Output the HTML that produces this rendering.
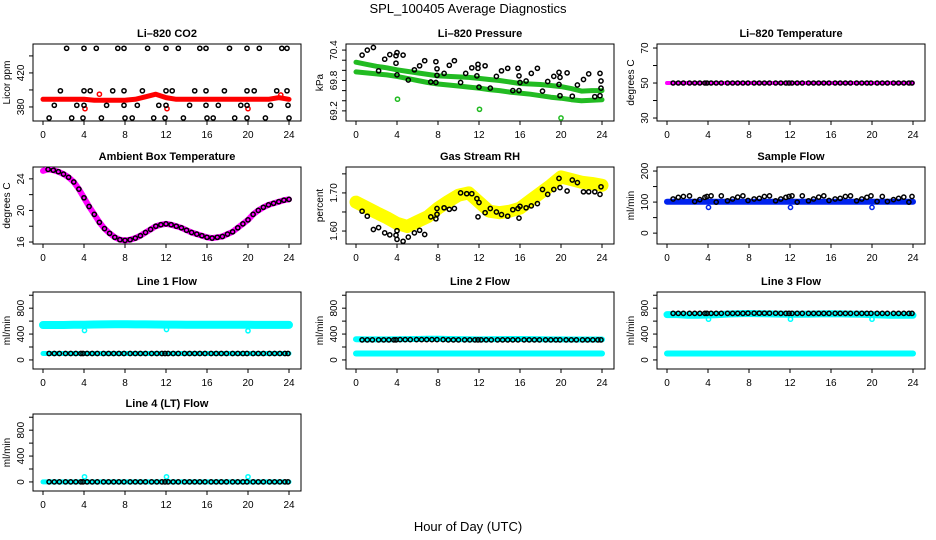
<!DOCTYPE html>
<html><head><meta charset="utf-8">
<style>
html,body{margin:0;padding:0;background:#fff;}
svg{display:block;font-family:"Liberation Sans",Arial,sans-serif;}
</style></head>
<body>
<svg id="chart" width="936" height="540" viewBox="0 0 936 540" xmlns="http://www.w3.org/2000/svg">
<text x="468" y="13" text-anchor="middle" font-size="13">SPL_100405  Average Diagnostics</text>
<text x="468" y="531" text-anchor="middle" font-size="13">Hour of Day (UTC)</text>
</svg>
<script>
// ---------- data ----------
const xTicks = [0,4,8,12,16,20,24];
const blackHours = [0.6,1.1,1.6,2.2,2.7,3.2,3.7,3.9,4.3,4.8,5.3,5.9,6.4,6.9,7.4,7.9,8.5,9.0,9.5,10.0,10.6,11.1,11.6,11.9,12.2,12.7,13.2,13.8,14.3,14.8,15.3,15.8,16.4,16.9,17.4,17.9,18.5,19.0,19.5,19.9,20.5,21.0,21.5,22.1,22.6,23.1,23.6,23.9];
const hourly = [0,1,2,3,4,5,6,7,8,9,10,11,12,13,14,15,16,17,18,19,20,21,22,23,24];
const halfHours = [0,0.5,1,1.5,2,2.5,3,3.5,4,4.5,5,5.5,6,6.5,7,7.5,8,8.5,9,9.5,10,10.5,11,11.5,12,12.5,13,13.5,14,14.5,15,15.5,16,16.5,17,17.5,18,18.5,19,19.5,20,20.5,21,21.5,22,22.5,23,23.5,24];
const outlierHours = [4.05,12.05,20.0];

// CO2
const co2Band = [389,389,389,389,389,388,388,388,388,389,392,395,391,389,389,389,389,389,389,389,389,389,389,391,389];
const co2Hours = [2.3,4.0,5.2,7.3,7.9,10.2,12.0,13.2,15.3,15.9,18.2,19.9,21.1,23.3,23.8, 1.7,4.0,4.6,6.8,7.9,9.7,12.0,12.6,14.8,15.9,17.7,19.9,20.6,22.8,23.8, 1.1,3.3,4.0,6.2,7.9,9.2,11.3,12.0,14.3,15.9,17.1,19.3,19.9,22.2,23.9, 0.6,2.8,3.9,5.7,8.0,8.7,10.8,11.9,13.7,16.0,16.6,18.7,19.9,21.7,24.0];
const co2Values = [449,449,449,449,449,449,449,449,449,449,449,449,449,449,449, 399,399,399,399,399,399,399,399,399,399,399,399,399,399,399, 382,382,382,382,382,382,382,382,382,382,382,382,382,382,382, 367,367,367,367,367,367,367,367,367,367,367,367,367,367,367];
const co2OutHours = [4.1,5.5,12.1,20.0,23.2];
const co2OutValues = [378,395,378,378,394];

// Pressure
const presUpper = [70.16,70.12,70.08,70.05,70.01,69.98,69.95,69.92,69.89,69.88,69.87,69.86,69.84,69.82,69.80,69.77,69.74,69.73,69.72,69.70,69.68,69.64,69.59,69.60,69.60];
const presLower = [69.97,69.95,69.93,69.91,69.88,69.84,69.80,69.76,69.73,69.71,69.69,69.67,69.65,69.62,69.60,69.57,69.55,69.53,69.50,69.47,69.45,69.42,69.40,69.41,69.42];
const presHours = [0.6,1.1,1.7,2.2,2.8,3.3,3.9,4.0,3.9,4.0,4.6,5.1,5.7,6.2,6.7,7.3,7.8,7.8,7.9,7.9,8.6,9.1,9.6,10.2,10.7,11.3,11.8,11.9,11.9,12.0,12.6,13.1,13.7,14.2,14.8,15.3,15.8,15.9,16.0,15.9,16.6,17.1,17.7,18.2,18.7,19.3,19.8,19.9,19.8,19.9,20.6,21.1,21.6,22.2,22.7,23.3,23.8,23.9,23.9,23.8];
const presValues = [70.30,70.40,70.45,69.99,70.22,70.31,70.29,70.35,70.14,69.91,70.30,69.81,70.01,70.09,70.19,69.77,69.76,70.17,70.03,69.90,69.94,70.10,70.19,69.76,69.94,70.05,69.89,70.12,70.04,69.67,70.09,69.65,69.88,69.99,70.04,69.60,70.04,69.89,69.76,69.60,69.79,69.94,70.04,69.59,69.78,69.88,69.96,69.86,69.72,69.50,69.95,69.49,69.71,69.82,69.93,69.48,69.94,69.79,69.65,69.50];
const presOutValues = [69.43,69.23,69.06];

// Li-820 temperature
const tempBand = [50,50,50,50,50,50,50,50,50,50,50,50,50,50,50,50,50,50,50,50,50,50,50,50,50];
const tempBlack = [50,50,50,50,50,50,50,50,50,50,50,50,50,50,50,50,50,50,50,50,50,50,50,50,50,50,50,50,50,50,50,50,50,50,50,50,50,50,50,50,50,50,50,50,50,50,50,50];

// Ambient box temperature (half-hourly)
const ambientValues = [25.0,25.2,25.1,24.9,24.6,24.2,23.6,22.7,21.6,20.5,19.5,18.5,17.7,17.1,16.6,16.3,16.2,16.3,16.5,16.8,17.2,17.6,18.0,18.2,18.3,18.2,18.0,17.8,17.5,17.2,17.0,16.8,16.6,16.5,16.6,16.7,17.0,17.3,17.8,18.3,18.8,19.5,20.0,20.4,20.7,20.9,21.1,21.3,21.4];

// Gas stream RH
const rhBand = [1.676,1.662,1.648,1.635,1.620,1.612,1.625,1.638,1.660,1.678,1.694,1.700,1.676,1.652,1.648,1.652,1.660,1.680,1.700,1.720,1.742,1.735,1.728,1.725,1.720];
const rhHours = [0.6,1.1,1.7,2.2,2.8,3.3,3.9,4.0,4.0,4.6,5.1,5.7,6.2,6.7,7.3,7.8,7.9,7.9,8.6,9.1,9.6,10.2,10.8,11.3,11.8,11.9,12.0,12.6,13.1,13.7,14.2,14.8,15.3,15.8,15.9,16.0,16.6,17.1,17.7,18.2,18.7,19.3,19.8,19.9,20.6,21.1,21.6,22.2,22.7,23.3,23.8,23.9];
const rhValues = [1.652,1.639,1.604,1.609,1.595,1.590,1.589,1.578,1.601,1.573,1.584,1.595,1.602,1.591,1.637,1.632,1.644,1.659,1.661,1.657,1.659,1.700,1.698,1.698,1.685,1.637,1.675,1.648,1.659,1.650,1.643,1.639,1.656,1.659,1.634,1.665,1.661,1.666,1.672,1.709,1.696,1.709,1.738,1.714,1.705,1.734,1.727,1.703,1.703,1.703,1.696,1.716];

// Sample flow
const sampleBand = [101,101,101,101,101,101,101,101,101,101,101,101,101,101,101,101,101,101,101,101,101,101,101,101,101];
const sampleBlack = [110,115,118,120,102,108,115,118,120,100,120,104,110,116,120,105,110,112,118,120,104,110,115,118,120,100,120,104,110,116,120,105,110,112,118,120,104,110,115,120,102,118,102,108,112,116,100,118];
const sampleOut = [83,83,83];

// Line flows
const line1Band = [540,540,540,545,545,548,550,552,552,550,550,548,546,546,545,545,545,544,544,543,543,542,542,542,542];
const line1Low = [100,100,100,100,100,100,100,100,100,100,100,100,100,100,100,100,100,100,100,100,100,100,100,100,100];
const line1Black = [100,100,100,100,100,100,100,100,100,100,100,100,100,100,100,100,100,100,100,100,100,100,100,100,100,100,100,100,100,100,100,100,100,100,100,100,100,100,100,100,100,100,100,100,100,100,100,100];
const line1Out = [455,470,450];
const line2Band = [320,318,318,318,320,322,324,326,326,324,322,320,318,320,322,324,324,322,320,318,318,316,316,316,316];
const line2Low = [100,100,100,100,100,100,100,100,100,100,100,100,100,100,100,100,100,100,100,100,100,100,100,100,100];
const line2Black = [310,310,310,310,310,310,310,310,315,315,315,315,315,315,315,315,315,310,310,310,310,310,310,310,310,310,310,310,310,310,310,310,310,310,310,310,310,310,310,310,310,310,310,310,310,310,310,310];
const line3Band = [700,700,690,690,695,700,710,715,718,715,712,708,705,705,708,712,715,712,708,705,700,695,690,690,690];
const line3Low = [100,100,100,100,100,100,100,100,100,100,100,100,100,100,100,100,100,100,100,100,100,100,100,100,100];
const line3Black = [720,720,720,720,720,720,720,720,720,720,720,720,720,720,720,722,722,722,722,722,722,720,720,720,720,720,720,720,720,720,720,720,720,720,720,720,720,720,720,720,720,720,720,720,720,720,720,720];
const line3Out = [630,630,630];
const line4Band = [0,0,0,0,0,0,0,0,0,0,0,0,0,0,0,0,0,0,0,0,0,0,0,0,0];
const line4Black = [0,0,0,0,0,0,0,0,0,0,0,0,0,0,0,0,0,0,0,0,0,0,0,0,0,0,0,0,0,0,0,0,0,0,0,0,0,0,0,0,0,0,0,0,0,0,0,0];
const line4Out = [80,80,80];

// ---------- drawing ----------
const svg = document.getElementById('chart');
const NS = 'http://www.w3.org/2000/svg';
function mk(tag, attrs, parent){
  const e = document.createElementNS(NS, tag);
  for (const k in attrs) e.setAttribute(k, attrs[k]);
  (parent||svg).appendChild(e);
  return e;
}
const colLeft = [33,346,657];
const rowTop = [44,167,292,414];
const BW = 268, BH = 77;

function makePanel(slug, col, row, title, ytitle, ymin, ymax, yticks, ylabels){
  const L = colLeft[col], T = rowTop[row];
  const g = mk('g', {});
  
  
  const x = h => L + 10 + h * 10.25;
  const y = v => T + BH - (v - ymin) / (ymax - ymin) * BH;
  const box = mk('rect', {x:L, y:T, width:BW, height:BH, fill:'none', stroke:'#000', 'stroke-width':1}, g);
  
  
  const t = mk('text', {x:L+BW/2, y:T-7, 'text-anchor':'middle', 'font-size':11, 'font-weight':'bold'}, g);
  t.textContent = title;
  
  
  const xa = mk('g', {}, g);
  
  
  mk('line', {x1:x(0), x2:x(24), y1:T+BH, y2:T+BH, stroke:'#000'}, xa);
  xTicks.forEach(v => {
    mk('line', {x1:x(v), x2:x(v), y1:T+BH, y2:T+BH+4, stroke:'#000'}, xa);
    const tl = mk('text', {x:x(v), y:T+BH+17, 'text-anchor':'middle', 'font-size':10}, xa);
    tl.textContent = v;
    
    
  });
  const ya = mk('g', {}, g);
  
  
  yticks.forEach(v => {
    mk('line', {x1:L-4, x2:L, y1:y(v), y2:y(v), stroke:'#000'}, ya);
  });
  yticks.forEach((v,i) => {
    if (ylabels[i] === '') return;
    const tl = mk('text', {x:0, y:0, 'text-anchor':'middle', 'font-size':10,
      transform:'translate(' + (L-9) + ',' + y(v) + ') rotate(-90)'}, ya);
    tl.textContent = ylabels[i];
    
    
  });
  const yt = mk('text', {x:0, y:0, 'text-anchor':'middle', 'font-size':10,
    transform:'translate(' + (L-23) + ',' + (T+BH/2) + ') rotate(-90)'}, g);
  yt.textContent = ytitle;
  
  
  const clip = 'clip-' + slug;
  const cp = mk('clipPath', {id:clip}, g);
  mk('rect', {x:L, y:T, width:BW, height:BH}, cp);
  const plot = mk('g', {'clip-path':'url(#' + clip + ')'}, g);
  return {x, y, plot};
}

function band(P, name, hours, vals, color, width){
  const pts = hours.map((h,i) => P.x(h).toFixed(1) + ',' + P.y(vals[i]).toFixed(1)).join(' ');
  const pl = mk('polyline', {points:pts, fill:'none', stroke:color, 'stroke-width':width,
    'stroke-linejoin':'round', 'stroke-linecap':'round'}, P.plot);
  
  
}
function points(P, name, hours, vals, color, r){
  const g = mk('g', {}, P.plot);
  
  
  hours.forEach((h,i) => {
    const c = mk('circle', {cx:P.x(h).toFixed(1), cy:P.y(vals[i]).toFixed(1), r:r||2.1,
      fill:'none', stroke:color, 'stroke-width':1.5}, g);
    
    
  });
}

// CO2
let P = makePanel('co2', 0, 0, 'Li\u2013820 CO2', 'Licor ppm', 363.5, 454, [380,400,420,440], ['380','','420','']);
band(P, 'co2-band', hourly, co2Band, '#ff0000', 5);
points(P, 'co2-outliers', co2OutHours, co2OutValues, '#ff0000');
points(P, 'co2-hourly-points', co2Hours, co2Values, '#000');

// Pressure
P = makePanel('pressure', 1, 0, 'Li\u2013820 Pressure', 'kPa', 69.0, 70.52, [69.2,69.4,69.6,69.8,70.0,70.2,70.4], ['69.2','','','69.8','','','70.4']);
band(P, 'pressure-upper-band', hourly, presUpper, '#22bb22', 5);
band(P, 'pressure-lower-band', hourly, presLower, '#22bb22', 5);
points(P, 'pressure-outliers', outlierHours, presOutValues, '#22bb22');
points(P, 'pressure-hourly-points', presHours, presValues, '#000');

// Li-820 temperature
P = makePanel('li820-temperature', 2, 0, 'Li\u2013820 Temperature', 'degrees C', 28.3, 72.3, [30,40,50,60,70], ['30','','50','','70']);
band(P, 'temperature-band', hourly, tempBand, '#ff00ff', 4);
points(P, 'temperature-hourly-points', blackHours, tempBlack, '#000', 2);

// Ambient
P = makePanel('ambient-temperature', 0, 1, 'Ambient Box Temperature', 'degrees C', 15.75, 25.5, [16,18,20,22,24], ['16','','20','','24']);
band(P, 'ambient-band', halfHours, ambientValues, '#ff00ff', 6);
points(P, 'ambient-hourly-points', halfHours.slice(1), ambientValues.slice(1), '#000');

// RH
P = makePanel('gas-rh', 1, 1, 'Gas Stream RH', 'percent', 1.566, 1.768, [1.60,1.65,1.70,1.75], ['1.60','','1.70','']);
band(P, 'rh-band', hourly, rhBand, '#ffff00', 13);
points(P, 'rh-hourly-points', rhHours, rhValues, '#000');

// Sample flow
P = makePanel('sample-flow', 2, 1, 'Sample Flow', 'ml/min', -35, 213, [0,50,100,150,200], ['0','','100','','200']);
band(P, 'sample-band', hourly, sampleBand, '#0022ee', 6);
points(P, 'sample-outliers', outlierHours, sampleOut, '#0022ee');
points(P, 'sample-hourly-points', blackHours, sampleBlack, '#000');

const flowTicks = [0,200,400,600,800,1000];
const flowLabels = ['0','','400','','800',''];
// Line 1
P = makePanel('line1-flow', 0, 2, 'Line 1 Flow', 'ml/min', -140, 1050, flowTicks, flowLabels);
band(P, 'line1-band', hourly, line1Band, '#00ffff', 8);
band(P, 'line1-low-band', hourly, line1Low, '#00ffff', 5);
points(P, 'line1-outliers', outlierHours, line1Out, '#00ffff');
points(P, 'line1-hourly-points', blackHours, line1Black, '#000');
// Line 2
P = makePanel('line2-flow', 1, 2, 'Line 2 Flow', 'ml/min', -140, 1050, flowTicks, flowLabels);
band(P, 'line2-band', hourly, line2Band, '#00ffff', 6);
band(P, 'line2-low-band', hourly, line2Low, '#00ffff', 6);
points(P, 'line2-hourly-points', blackHours, line2Black, '#000');
// Line 3
P = makePanel('line3-flow', 2, 2, 'Line 3 Flow', 'ml/min', -140, 1050, flowTicks, flowLabels);
band(P, 'line3-band', hourly, line3Band, '#00ffff', 7);
band(P, 'line3-low-band', hourly, line3Low, '#00ffff', 6);
points(P, 'line3-outliers', outlierHours, line3Out, '#00ffff');
points(P, 'line3-hourly-points', blackHours, line3Black, '#000');
// Line 4
P = makePanel('line4-flow', 0, 3, 'Line 4 (LT) Flow', 'ml/min', -140, 1050, flowTicks, flowLabels);
band(P, 'line4-band', hourly, line4Band, '#00ffff', 5);
points(P, 'line4-outliers', outlierHours, line4Out, '#00ffff');
points(P, 'line4-hourly-points', blackHours, line4Black, '#000');
</script>
</body></html>
